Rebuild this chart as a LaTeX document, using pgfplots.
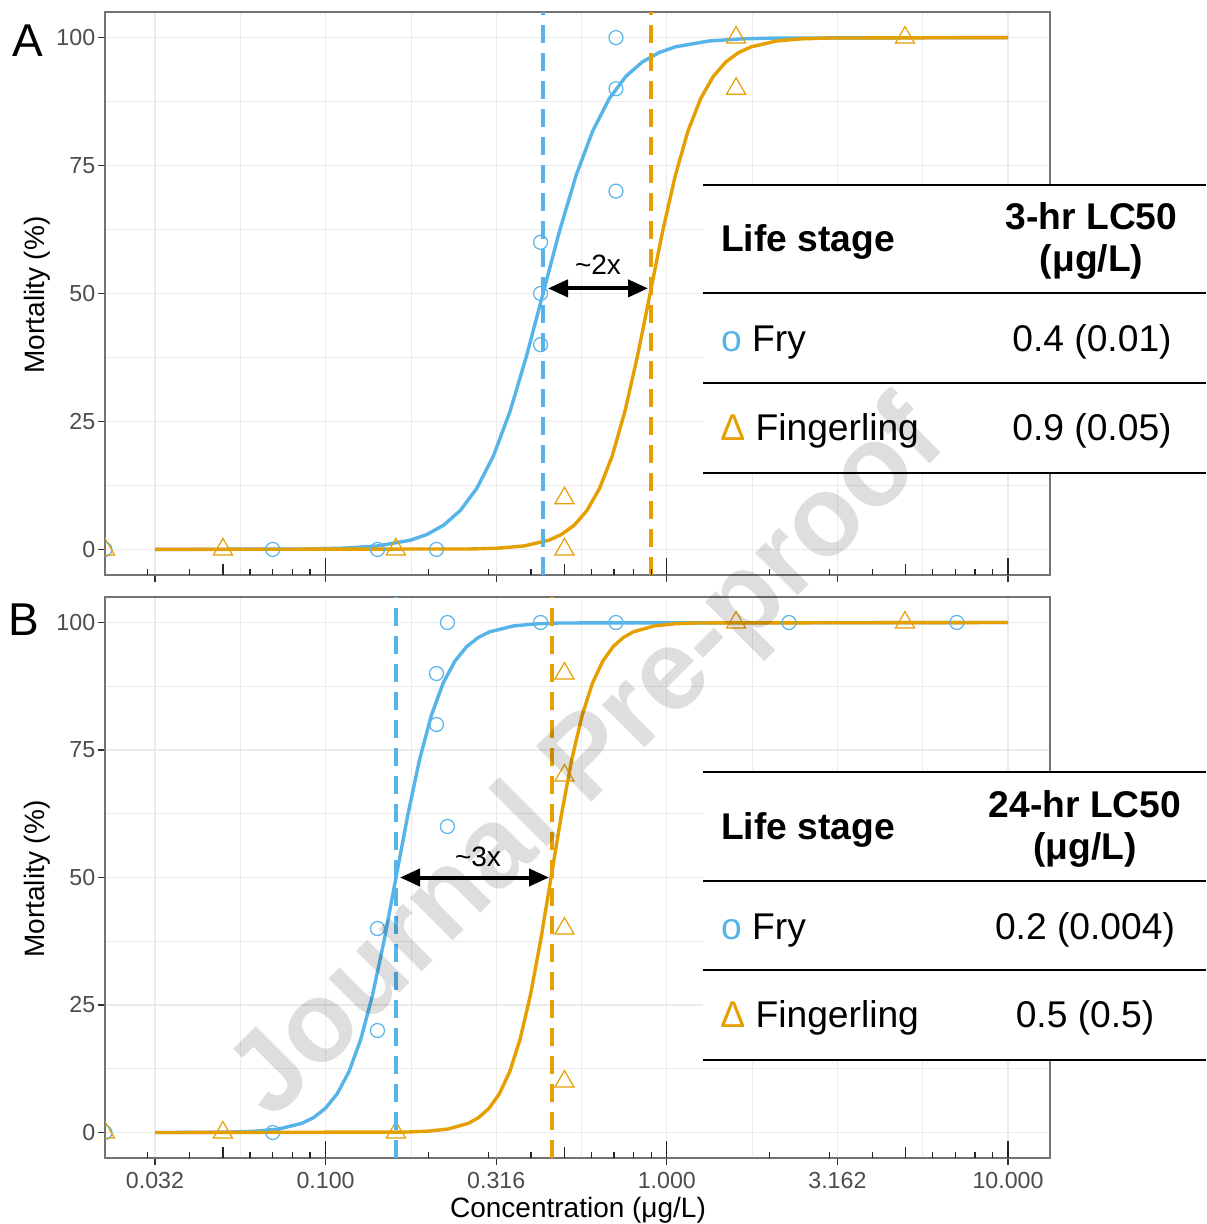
\documentclass[border=0pt]{standalone}
\usepackage{fontspec}
\setmainfont{Liberation Sans}
\usepackage{pgfplots}
\usepackage{pgfplotstable}
\pgfplotsset{compat=1.18}
\usetikzlibrary{arrows.meta}
\definecolor{fry}{HTML}{56B4E9}
\definecolor{fing}{HTML}{E69F00}

% x = log10(concentration, ug/L), y = mortality (%)
\pgfplotstableread{
x y
-1.5 0.000
-1.0424 0.091
-0.9453 0.247
-0.8482 0.669
-0.7512 1.799
-0.7026 2.931
-0.6541 4.743
-0.6055 7.586
-0.5570 11.920
-0.5084 18.243
-0.4599 26.894
-0.4113 37.754
-0.3628 50.000
-0.3143 62.246
-0.2657 73.106
-0.2172 81.757
-0.1686 88.080
-0.1201 92.414
-0.0715 95.257
-0.0230 97.069
0.0256 98.201
0.1227 99.331
0.2197 99.753
0.3168 99.909
1.0 100.000
}\curveFryA
\pgfplotstableread{
x y
-1.5 0.000
-0.5675 0.091
-0.4934 0.247
-0.4194 0.669
-0.3453 1.799
-0.3083 2.931
-0.2712 4.743
-0.2342 7.586
-0.1971 11.920
-0.1601 18.243
-0.1231 26.894
-0.0860 37.754
-0.0490 50.000
-0.0120 62.246
0.0251 73.106
0.0621 81.757
0.0991 88.080
0.1362 92.414
0.1732 95.257
0.2103 97.069
0.2473 98.201
0.3214 99.331
0.3954 99.753
0.4695 99.909
1.0 100.000
}\curveFingA
\pgfplotstableread{
x y
-1.5 0.000
-1.3454 0.034
-1.2765 0.091
-1.2075 0.247
-1.1385 0.669
-1.0696 1.799
-1.0351 2.931
-1.0006 4.743
-0.9661 7.586
-0.9316 11.920
-0.8971 18.243
-0.8627 26.894
-0.8282 37.754
-0.7937 50.000
-0.7592 62.246
-0.7247 73.106
-0.6903 81.757
-0.6558 88.080
-0.6213 92.414
-0.5868 95.257
-0.5523 97.069
-0.5178 98.201
-0.4489 99.331
-0.3799 99.753
-0.3109 99.909
1.0 100.000
}\curveFryB
\pgfplotstableread{
x y
-1.5 0.000
-0.7635 0.091
-0.7029 0.247
-0.6423 0.669
-0.5817 1.799
-0.5514 2.931
-0.5211 4.743
-0.4908 7.586
-0.4605 11.920
-0.4302 18.243
-0.3999 26.894
-0.3696 37.754
-0.3393 50.000
-0.3090 62.246
-0.2787 73.106
-0.2484 81.757
-0.2181 88.080
-0.1878 92.414
-0.1575 95.257
-0.1272 97.069
-0.0969 98.201
-0.0363 99.331
0.0243 99.753
0.0849 99.909
1.0 100.000
}\curveFingB

\pgfplotstableread{
x y
-1.6466 0
-1.155 0
-0.848 0
-0.675 0
-0.370 40
-0.370 50
-0.370 60
-0.149 70
-0.149 90
-0.149 100
}\ptsFryA
\pgfplotstableread{
x y
-1.6466 0
-1.301 0
-0.794 0
-0.300 0
-0.300 10
0.203 90
0.203 100
0.698 100
}\ptsFingA
\pgfplotstableread{
x y
-1.6466 0
-1.155 0
-0.848 20
-0.848 40
-0.675 80
-0.675 90
-0.643 60
-0.643 100
-0.370 100
-0.149 100
0.358 100
0.850 100
}\ptsFryB
\pgfplotstableread{
x y
-1.6466 0
-1.301 0
-0.794 0
-0.300 10
-0.300 40
-0.300 70
-0.300 90
0.203 100
0.698 100
}\ptsFingB

\pgfplotsset{
  panel/.style={
    scale only axis, width=472.5pt,
    xmin=-1.6466, xmax=1.1231, ymin=-5, ymax=105,
    xtick={-1.5,-1,-0.5,0,0.5,1},
    minor xtick={-1.25,-0.75,-0.25,0.25,0.75},
    ytick={0,25,50,75,100},
    minor ytick={12.5,37.5,62.5,87.5},
    grid=both,
    major grid style={draw=black!8, line width=0.6pt},
    minor grid style={draw=black!8, line width=0.35pt},
    tick align=outside, major tick length=3.5pt, minor tick length=0pt,
    xtick pos=bottom, ytick pos=left,
    major tick style={draw=black!80, line width=0.55pt},
    axis line style={draw=black!55, line width=0.6pt},
    ticklabel style={font=\fontsize{11.6}{13.5}\selectfont, text=black!70},
    yticklabel style={inner xsep=1.2pt},
    /pgf/number format/assume math mode=true,
    clip marker paths=true,
  },
  crv/.style={line width=1.7pt, no marks},
  vln/.style={line width=1.7pt, no marks, dash pattern=on 9pt off 5pt},
  cir/.style={only marks, fry, mark=o, mark size=3.5pt, mark options={line width=0.6pt}},
  tri/.style={only marks, fing, mark=triangle, mark size=5.5pt, mark options={line width=0.6pt}},
}
\tikzset{
  logtick/.style={draw=black!85, line width=0.6pt},
  dbl/.style={line width=2pt, {Triangle[length=10pt,width=8.5pt]}-{Triangle[length=10pt,width=8.5pt]}},
}
\newcommand{\logticks}{%
  \pgfplotsinvokeforeach{-1.52288,-1.39794,-1.22185,-1.15490,-1.09691,-1.04576,
    -0.69897,-0.52288,-0.39794,-0.22185,-0.15490,-0.09691,-0.04576,
    0.30103,0.47712,0.60206,0.77815,0.84510,0.90309,0.95424}{%
    \draw[logtick] (axis cs:##1,-5) -- ++(0pt,2.85pt);}%
  \pgfplotsinvokeforeach{-1.30103,-0.30103,0.69897}{%
    \draw[logtick] (axis cs:##1,-5) -- ++(0pt,5.5pt);}%
  \pgfplotsinvokeforeach{-1,0,1}{%
    \draw[logtick] (axis cs:##1,-5) -- ++(0pt,8.4pt);}%
}

\begin{document}
\begin{tikzpicture}
\useasboundingbox (0pt,0pt) rectangle (603pt,-612pt);
\fill[white] (0pt,0pt) rectangle (603pt,-612pt);

% ---------------- Panel A ----------------
\begin{axis}[panel, height=281.5pt, at={(52.5pt,-287.5pt)}, anchor=south west,
  xticklabels={}]
  \addplot[crv, fry] table {\curveFryA};
  \addplot[crv, fing] table {\curveFingA};
  \addplot[cir] table {\ptsFryA};
  \addplot[tri] table {\ptsFingA};
  \addplot[vln, fry] coordinates {(-0.3628,-5) (-0.3628,105)};
  \addplot[vln, fing] coordinates {(-0.0463,-5) (-0.0463,105)};
  \logticks
  \draw[dbl] (axis cs:-0.3482,51) -- (axis cs:-0.0551,51);
  \node[font=\fontsize{14}{16}\selectfont, inner sep=0pt] at (axis cs:-0.2016,55.7) {\textasciitilde 2x};
\end{axis}

% ---------------- Panel B ----------------
\begin{axis}[panel, height=280.5pt, at={(52.5pt,-579pt)}, anchor=south west,
  xticklabels={0.032,0.100,0.316,1.000,3.162,10.000}]
  \addplot[crv, fry] table {\curveFryB};
  \addplot[crv, fing] table {\curveFingB};
  \addplot[cir] table {\ptsFryB};
  \addplot[tri] table {\ptsFingB};
  \addplot[vln, fry] coordinates {(-0.7937,-5) (-0.7937,105)};
  \addplot[vln, fing] coordinates {(-0.3365,-5) (-0.3365,105)};
  \logticks
  \draw[dbl] (axis cs:-0.782,50) -- (axis cs:-0.3453,50);
  \node[font=\fontsize{14}{16}\selectfont, inner sep=0pt] at (axis cs:-0.5533,54.1) {\textasciitilde 3x};
\end{axis}

% axis titles and panel letters
\node[rotate=90, font=\fontsize{14}{16}\selectfont, inner sep=0pt] at (18.5pt,-147.5pt) {Mortality (\%)};
\node[rotate=90, font=\fontsize{14}{16}\selectfont, inner sep=0pt] at (18.5pt,-439.5pt) {Mortality (\%)};
\node[font=\fontsize{14}{16}\selectfont, inner sep=0pt] at (289pt,-605pt) {Concentration (μg/L)};
\node[anchor=base west, inner sep=0pt, font=\fontsize{23}{26}\selectfont] at (5.85pt,-28.35pt) {A};
\node[anchor=base west, inner sep=0pt, font=\fontsize{23}{26}\selectfont] at (4.25pt,-317.5pt) {B};

% ---------------- Table A ----------------
\fill[white] (351.35pt,-92.5pt) rectangle (603pt,-236.35pt);
\foreach \yy in {-92.5,-146.65,-191.35,-236.35}{\draw[line width=1pt] (351.35pt,\yy pt) -- (603pt,\yy pt);}
\begin{scope}[every node/.style={inner sep=0pt, font=\fontsize{18.6}{21}\selectfont}]
\node[anchor=base west, font=\fontsize{18.6}{21}\selectfont\bfseries] at (360.35pt,-125.85pt) {Life stage};
\node[anchor=base, font=\fontsize{18.6}{21}\selectfont\bfseries] at (545.75pt,-115pt) {3-hr LC50};
\node[anchor=base, font=\fontsize{18.6}{21}\selectfont\bfseries] at (545.75pt,-135.85pt) {(μg/L)};
\node[anchor=base west] at (360.35pt,-175.85pt) {\textcolor{fry}{o} Fry};
\node[anchor=base] at (546pt,-175.85pt) {0.4 (0.01)};
\node[anchor=base west] at (360pt,-220pt) {\textcolor{fing}{Δ} Fingerling};
\node[anchor=base] at (546pt,-220pt) {0.9 (0.05)};
\end{scope}

% ---------------- Table B ----------------
\fill[white] (351.35pt,-386.15pt) rectangle (603pt,-530pt);
\foreach \yy in {-386.15,-440.3,-485,-530}{\draw[line width=1pt] (351.35pt,\yy pt) -- (603pt,\yy pt);}
\begin{scope}[every node/.style={inner sep=0pt, font=\fontsize{18.6}{21}\selectfont}]
\node[anchor=base west, font=\fontsize{18.6}{21}\selectfont\bfseries] at (360.35pt,-419.5pt) {Life stage};
\node[anchor=base, font=\fontsize{18.6}{21}\selectfont\bfseries] at (542.5pt,-408.65pt) {24-hr LC50};
\node[anchor=base, font=\fontsize{18.6}{21}\selectfont\bfseries] at (542.5pt,-429.5pt) {(μg/L)};
\node[anchor=base west] at (360.35pt,-469.5pt) {\textcolor{fry}{o} Fry};
\node[anchor=base] at (542.5pt,-469.5pt) {0.2 (0.004)};
\node[anchor=base west] at (360pt,-513.65pt) {\textcolor{fing}{Δ} Fingerling};
\node[anchor=base] at (542.5pt,-513.65pt) {0.5 (0.5)};
\end{scope}

% watermark
\node[rotate=45, opacity=0.13, font=\fontsize{57}{66}\selectfont\bfseries, inner sep=0pt] at (295pt,-381pt) {Journal Pre-proof};
\end{tikzpicture}
\end{document}
